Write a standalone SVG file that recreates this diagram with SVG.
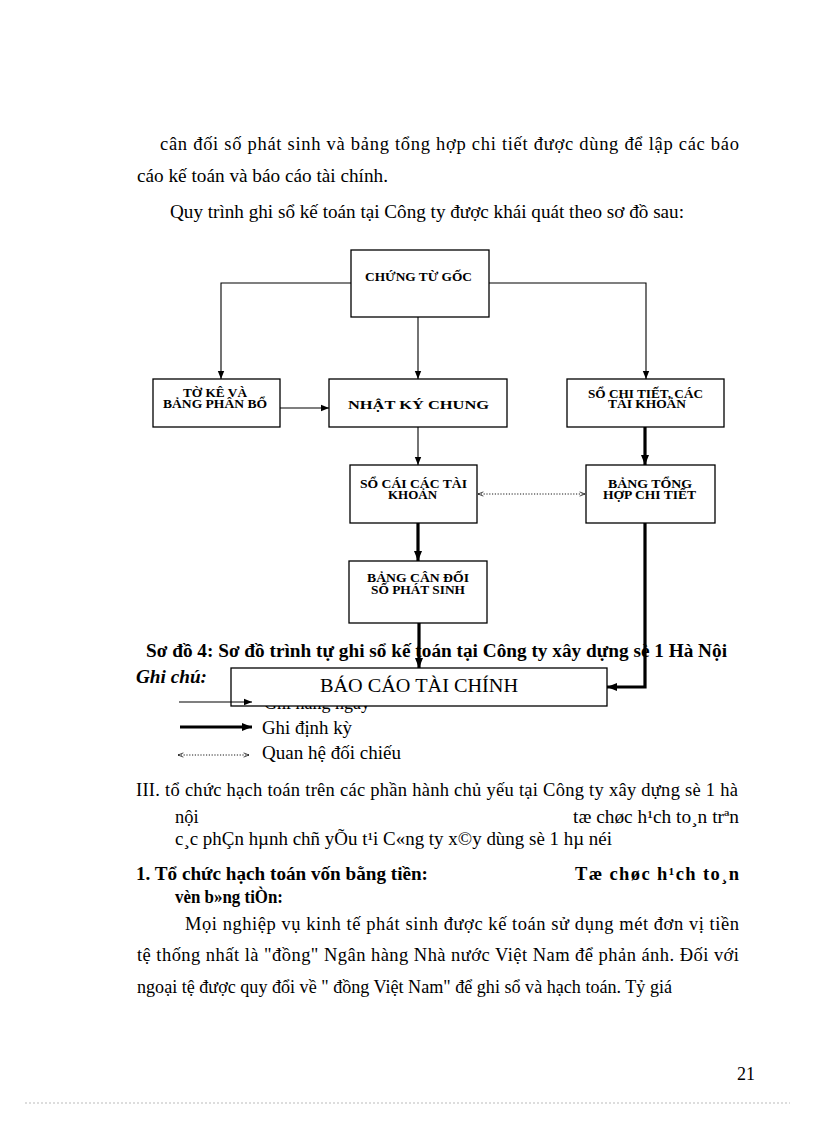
<svg xmlns="http://www.w3.org/2000/svg" width="816" height="1123" viewBox="0 0 816 1123">
<style>
.t{font-family:"Liberation Serif","Times New Roman",serif;font-size:18.5px;fill:#000}
.b{font-weight:bold}
.n{font-family:"Liberation Serif","Times New Roman",serif;font-weight:bold;font-size:11.5px;fill:#000;text-anchor:start}
.box{fill:#fff;stroke:#000;stroke-width:1.3}
.thin{fill:none;stroke:#000;stroke-width:1.1}
.thick{fill:none;stroke:#000;stroke-width:3.2}
.dot{fill:none;stroke:#000;stroke-width:0.9;stroke-dasharray:1.2 1.6}
</style>
<defs>
<marker id="ah" viewBox="0 0 10 10" refX="10" refY="5" markerWidth="8" markerHeight="8" markerUnits="userSpaceOnUse" orient="auto"><path d="M0,1 L10,5 L0,9 z" fill="#000"/></marker>
<marker id="ahk" viewBox="0 0 10 10" refX="10" refY="5" markerWidth="10" markerHeight="10" markerUnits="userSpaceOnUse" orient="auto"><path d="M0,1 L10,5 L0,9 z" fill="#000"/></marker>
<marker id="ahd" viewBox="0 0 10 10" refX="10" refY="5" markerWidth="6" markerHeight="6" markerUnits="userSpaceOnUse" orient="auto-start-reverse"><path d="M1,1.5 L10,5 L1,8.5" fill="none" stroke="#000" stroke-width="1.2"/></marker>
</defs>
<rect width="816" height="1123" fill="#fff"/>

<g id="body-top">
<text class="t" x="160" y="150" textLength="579" lengthAdjust="spacing">cân đối số phát sinh và bảng tổng hợp chi tiết được dùng để lập các báo</text>
<text class="t" x="137" y="182" textLength="251" lengthAdjust="spacingAndGlyphs">cáo kế toán và báo cáo tài chính.</text>
<text class="t" x="170" y="218" textLength="514" lengthAdjust="spacingAndGlyphs">Quy trình ghi sổ kế toán tại Công ty được khái quát theo sơ đồ sau:</text>
</g>

<g id="caption">
<text class="t b" x="146" y="657" textLength="581" lengthAdjust="spacingAndGlyphs">Sơ đồ 4: Sơ đồ trình tự ghi sổ kế toán tại Công ty xây dựng sè 1 Hà Nội</text>
<text class="t b" x="136" y="683" font-style="italic" textLength="71" lengthAdjust="spacingAndGlyphs">Ghi chú:</text>
</g>

<g id="legend-text">
<text class="t" x="264" y="709" textLength="106" lengthAdjust="spacingAndGlyphs">Ghi hàng ngày</text>
<text class="t" x="262" y="734" textLength="90" lengthAdjust="spacingAndGlyphs">Ghi định kỳ</text>
<text class="t" x="262" y="759" textLength="139" lengthAdjust="spacingAndGlyphs">Quan hệ đối chiếu</text>
</g>

<g id="n-chung-tu-goc">
<rect class="box" x="351" y="250" width="138" height="67"/>
<text class="n" x="365" y="281" font-size="12.5" textLength="107" lengthAdjust="spacingAndGlyphs">CHỨNG TỪ GỐC</text>
</g>
<g id="n-to-ke">
<rect class="box" x="153" y="379" width="127" height="48"/>
<text class="n" x="183" y="397" textLength="64" lengthAdjust="spacingAndGlyphs">TỜ KÊ VÀ</text>
<text class="n" x="163" y="408" textLength="104" lengthAdjust="spacingAndGlyphs">BẢNG PHÂN BỔ</text>
</g>
<g id="n-nhat-ky-chung">
<rect class="box" x="329" y="379" width="178" height="48"/>
<text class="n" x="348" y="409" font-size="17" textLength="141" lengthAdjust="spacingAndGlyphs">NHẬT KÝ CHUNG</text>
</g>
<g id="n-so-chi-tiet">
<rect class="box" x="567" y="379" width="157" height="48"/>
<text class="n" x="588" y="398" textLength="115" lengthAdjust="spacingAndGlyphs">SỔ CHI TIẾT, CÁC</text>
<text class="n" x="608" y="408" textLength="78" lengthAdjust="spacingAndGlyphs">TÀI KHOẢN</text>
</g>
<g id="n-so-cai">
<rect class="box" x="350" y="465" width="127" height="58"/>
<text class="n" x="360" y="488" textLength="107" lengthAdjust="spacingAndGlyphs">SỔ CÁI CÁC TÀI</text>
<text class="n" x="388" y="499" textLength="49" lengthAdjust="spacingAndGlyphs">KHOẢN</text>
</g>
<g id="n-bang-tong-hop">
<rect class="box" x="586" y="465" width="129" height="58"/>
<text class="n" x="608" y="488" textLength="84" lengthAdjust="spacingAndGlyphs">BẢNG TỔNG</text>
<text class="n" x="603" y="499" textLength="93" lengthAdjust="spacingAndGlyphs">HỢP CHI TIẾT</text>
</g>
<g id="n-bang-can-doi">
<rect class="box" x="349" y="561" width="138" height="62"/>
<text class="n" x="367" y="582" textLength="102" lengthAdjust="spacingAndGlyphs">BẢNG CÂN ĐỐI</text>
<text class="n" x="371" y="594" textLength="94" lengthAdjust="spacingAndGlyphs">SỐ PHÁT SINH</text>
</g>
<g id="n-bao-cao">
<rect class="box" x="231" y="668" width="376" height="38"/>
<text class="t" x="320" y="692" textLength="198" lengthAdjust="spacingAndGlyphs">BÁO CÁO TÀI CHÍNH</text>
</g>

<g id="connectors">
<polyline class="thin" points="351,283 221,283 221,379" marker-end="url(#ah)"/>
<line class="thin" x1="418" y1="317" x2="418" y2="379" marker-end="url(#ah)"/>
<polyline class="thin" points="489,283 646,283 646,379" marker-end="url(#ah)"/>
<line class="thin" x1="280" y1="408" x2="329" y2="408" marker-end="url(#ah)"/>
<line class="thin" x1="418" y1="427" x2="418" y2="465" marker-end="url(#ah)"/>
<line class="thick" x1="645" y1="427" x2="645" y2="465" marker-end="url(#ahk)"/>
<line class="dot" x1="478" y1="494" x2="585" y2="494" marker-start="url(#ahd)" marker-end="url(#ahd)"/>
<line class="thick" x1="418" y1="523" x2="418" y2="561" marker-end="url(#ahk)"/>
<line class="thick" x1="419" y1="623" x2="419" y2="668" marker-end="url(#ahk)"/>
<polyline class="thick" points="645,523 645,687 607,687" marker-end="url(#ahk)"/>
</g>

<g id="legend-arrows">
<line class="thin" x1="179" y1="702" x2="252" y2="702" marker-end="url(#ah)"/>
<line class="thick" x1="180" y1="727" x2="252" y2="727" marker-end="url(#ahk)"/>
<line class="dot" x1="178" y1="755" x2="249" y2="755" marker-start="url(#ahd)" marker-end="url(#ahd)"/>
</g>

<g id="body-bottom">
<text class="t" x="136" y="796" textLength="602" lengthAdjust="spacing">III. tổ chức hạch toán trên các phần hành chủ yếu tại Công ty xây dựng sè 1 hà</text>
<text class="t" x="175" y="823">nội</text>
<text class="t" x="573" y="823" textLength="166" lengthAdjust="spacingAndGlyphs">tæ chøc h¹ch to¸n trªn</text>
<text class="t" x="175" y="845" textLength="437" lengthAdjust="spacingAndGlyphs">c¸c phÇn hµnh chñ yÕu t¹i C«ng ty x©y dùng sè 1 hµ néi</text>
<text class="t b" x="136" y="880" textLength="292" lengthAdjust="spacingAndGlyphs">1. Tổ chức hạch toán vốn bằng tiền:</text>
<text class="t b" x="575" y="880" textLength="164" lengthAdjust="spacing">Tæ  chøc  h¹ch  to¸n</text>
<text class="t b" x="175" y="903" textLength="108" lengthAdjust="spacingAndGlyphs">vèn b»ng tiÒn:</text>
<text class="t" x="185" y="930" textLength="554" lengthAdjust="spacing">Mọi nghiệp vụ kinh tế phát sinh được kế toán sử dụng mét đơn vị tiền</text>
<text class="t" x="137" y="961" textLength="602" lengthAdjust="spacing">tệ thống nhất là "đồng" Ngân hàng Nhà nước Việt Nam để phản ánh. Đối với</text>
<text class="t" x="137" y="993" textLength="535" lengthAdjust="spacingAndGlyphs">ngoại tệ được quy đổi về " đồng Việt Nam" để ghi sổ và hạch toán. Tỷ giá</text>
</g>

<g id="footer">
<text class="t" x="737" y="1080" textLength="18" lengthAdjust="spacingAndGlyphs">21</text>
<line x1="25" y1="1103" x2="790" y2="1103" stroke="#bbb" stroke-width="1" stroke-dasharray="2 2"/>
</g>
</svg>
